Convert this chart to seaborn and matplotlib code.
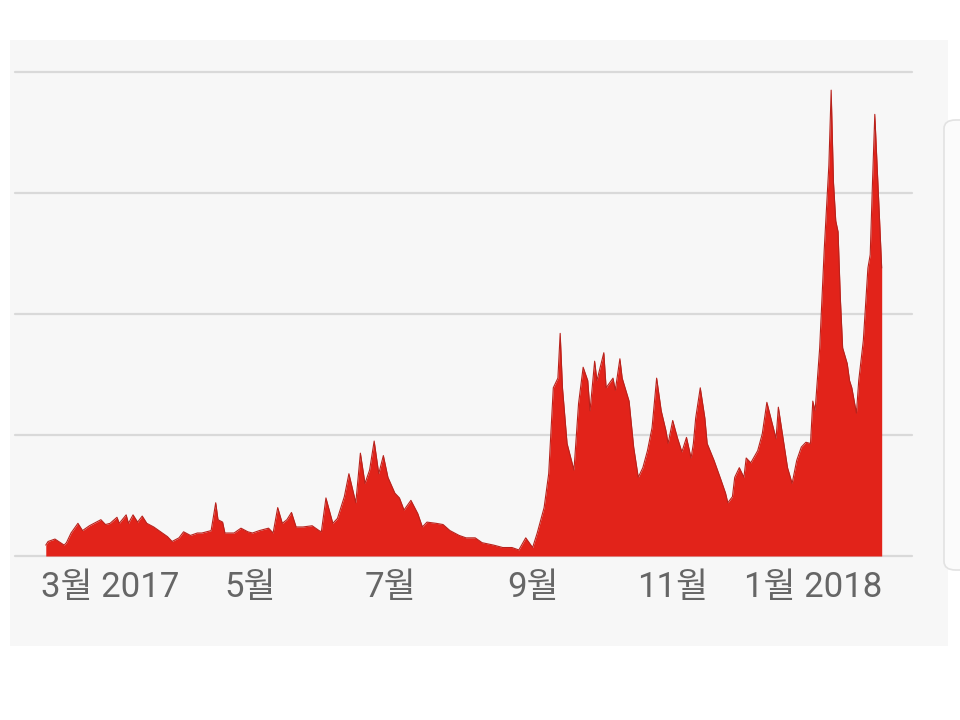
import pandas as pd
import numpy as np
import matplotlib
matplotlib.use("Agg")
import matplotlib.pyplot as plt
import matplotlib.dates as mdates
from matplotlib.patches import Rectangle, FancyBboxPatch
import seaborn as sns

# --- data ---
dates = [
    "2017-02-01", "2017-02-02", "2017-02-05", "2017-02-09", "2017-02-10", "2017-02-12",
    "2017-02-15", "2017-02-17", "2017-02-20", "2017-02-22", "2017-02-25", "2017-02-27",
    "2017-03-01", "2017-03-04", "2017-03-05", "2017-03-08", "2017-03-09", "2017-03-11",
    "2017-03-13", "2017-03-15", "2017-03-17", "2017-03-20", "2017-03-23", "2017-03-26",
    "2017-03-28", "2017-03-31", "2017-04-02", "2017-04-05", "2017-04-08", "2017-04-10",
    "2017-04-14", "2017-04-16", "2017-04-17", "2017-04-19", "2017-04-20", "2017-04-24",
    "2017-04-27", "2017-04-30", "2017-05-02", "2017-05-05", "2017-05-09", "2017-05-11",
    "2017-05-13", "2017-05-15", "2017-05-17", "2017-05-19", "2017-05-21", "2017-05-24",
    "2017-05-28", "2017-05-31", "2017-06-01", "2017-06-03", "2017-06-06", "2017-06-08",
    "2017-06-11", "2017-06-13", "2017-06-16", "2017-06-18", "2017-06-20", "2017-06-22",
    "2017-06-24", "2017-06-26", "2017-06-28", "2017-06-30", "2017-07-03", "2017-07-05",
    "2017-07-07", "2017-07-10", "2017-07-13", "2017-07-15", "2017-07-17", "2017-07-21",
    "2017-07-24", "2017-07-27", "2017-07-31", "2017-08-03", "2017-08-07", "2017-08-10",
    "2017-08-15", "2017-08-19", "2017-08-23", "2017-08-26", "2017-08-29", "2017-09-01",
    "2017-09-03", "2017-09-06", "2017-09-08", "2017-09-10", "2017-09-12", "2017-09-13",
    "2017-09-14", "2017-09-16", "2017-09-19", "2017-09-21", "2017-09-23", "2017-09-25",
    "2017-09-26", "2017-09-28", "2017-09-29", "2017-10-02", "2017-10-03", "2017-10-06",
    "2017-10-07", "2017-10-09", "2017-10-10", "2017-10-13", "2017-10-15", "2017-10-17",
    "2017-10-19", "2017-10-21", "2017-10-23", "2017-10-25", "2017-10-27", "2017-10-29",
    "2017-10-30", "2017-11-01", "2017-11-03", "2017-11-05", "2017-11-07", "2017-11-09",
    "2017-11-10", "2017-11-11", "2017-11-13", "2017-11-15", "2017-11-16", "2017-11-19",
    "2017-11-22", "2017-11-24", "2017-11-25", "2017-11-27", "2017-11-28", "2017-11-30",
    "2017-12-02", "2017-12-03", "2017-12-05", "2017-12-08", "2017-12-10", "2017-12-12",
    "2017-12-14", "2017-12-16", "2017-12-17", "2017-12-19", "2017-12-21", "2017-12-23",
    "2017-12-25", "2017-12-27", "2017-12-29", "2017-12-31", "2018-01-01", "2018-01-02",
    "2018-01-04", "2018-01-06", "2018-01-08", "2018-01-09", "2018-01-10", "2018-01-11",
    "2018-01-12", "2018-01-13", "2018-01-14", "2018-01-16", "2018-01-17", "2018-01-18",
    "2018-01-20", "2018-01-21", "2018-01-23", "2018-01-25", "2018-01-26", "2018-01-27",
    "2018-01-28", "2018-01-29", "2018-01-30", "2018-01-31",
]
values = [
    0.09, 0.12, 0.14, 0.09, 0.11, 0.19,
    0.27, 0.21, 0.25, 0.27, 0.30, 0.26,
    0.27, 0.32, 0.27, 0.34, 0.27, 0.34,
    0.28, 0.33, 0.27, 0.24, 0.20, 0.16,
    0.12, 0.15, 0.20, 0.17, 0.19, 0.19,
    0.21, 0.44, 0.30, 0.28, 0.19, 0.19,
    0.23, 0.20, 0.19, 0.21, 0.23, 0.19,
    0.40, 0.27, 0.30, 0.36, 0.24, 0.24,
    0.25, 0.21, 0.20, 0.48, 0.27, 0.31,
    0.49, 0.68, 0.44, 0.85, 0.60, 0.71,
    0.95, 0.68, 0.83, 0.65, 0.52, 0.48,
    0.38, 0.46, 0.35, 0.24, 0.28, 0.27,
    0.26, 0.21, 0.17, 0.15, 0.15, 0.11,
    0.09, 0.07, 0.07, 0.05, 0.15, 0.07,
    0.19, 0.40, 0.68, 1.39, 1.47, 1.84,
    1.39, 0.93, 0.71, 1.26, 1.56, 1.45,
    1.20, 1.61, 1.45, 1.68, 1.39, 1.47,
    1.37, 1.63, 1.47, 1.28, 0.90, 0.65,
    0.73, 0.87, 1.06, 1.47, 1.20, 1.04,
    0.93, 1.12, 0.98, 0.86, 0.98, 0.81,
    0.93, 1.14, 1.39, 1.14, 0.93, 0.79,
    0.63, 0.52, 0.44, 0.49, 0.65, 0.73,
    0.65, 0.81, 0.77, 0.87, 1.01, 1.27,
    1.12, 0.97, 1.23, 0.98, 0.73, 0.60,
    0.79, 0.90, 0.94, 0.93, 1.28, 1.20,
    1.72, 2.54, 3.23, 3.85, 3.09, 2.77,
    2.68, 2.13, 1.72, 1.59, 1.45, 1.39,
    1.18, 1.45, 1.78, 2.38, 2.49, 3.09,
    3.65, 3.23, 2.82, 2.38,
]
tick_dates = ["2017-03-01", "2017-05-01", "2017-07-01", "2017-09-01", "2017-11-01", "2018-01-01"]
tick_labels = ["3월 2017", "5월", "7월", "9월", "11월", "1월 2018"]
y_grid = [0, 1, 2, 3, 4]

RED = "#e2231a"
PANEL = "#f7f7f7"
GRID = "#d9d9d9"
TEXT = "#666666"


def main():
    sns.set_style("white")
    plt.rcParams["font.family"] = ["Roboto", "Noto Sans CJK KR", "DejaVu Sans"]

    df = pd.DataFrame({"date": pd.to_datetime(dates), "value": values})

    fig = plt.figure(figsize=(9.6, 7.2), dpi=100)
    fig.patch.set_facecolor("white")

    # --- grey card behind the chart ---
    fig.patches.append(Rectangle((10 / 960, 1 - 646 / 720), 938 / 960, 606 / 720,
                                 transform=fig.transFigure, facecolor=PANEL,
                                 edgecolor="none", zorder=-2))
    fig.patches.append(FancyBboxPatch((944 / 960, 1 - 570 / 720), 0.03, 450 / 720,
                                      boxstyle="round,pad=0,rounding_size=0.012",
                                      transform=fig.transFigure, facecolor="#fbfbfb",
                                      edgecolor="#e2e2e2", lw=1.2, zorder=-1))

    ax = fig.add_axes([15 / 960, 1 - 556 / 720, 897 / 960, 484 / 720])
    ax.set_zorder(2)
    ax.patch.set_visible(False)

    for y in y_grid:
        ax.axhline(y, color=GRID, lw=1.6, zorder=1, clip_on=False)

    ax.fill_between(df["date"], 0, df["value"], color=RED, lw=0, zorder=2)
    sns.lineplot(data=df, x="date", y="value", ax=ax, color="#b8221c", lw=0.8, zorder=3)

    # --- axes ---
    mar1 = mdates.date2num(pd.Timestamp("2017-03-01"))
    ax.set_xlim(mar1 - 41.4, mar1 + 349.2)
    ax.set_ylim(0, 4)
    for s in ax.spines.values():
        s.set_visible(False)

    ax.set_xticks(mdates.date2num(pd.to_datetime(tick_dates)))
    ax.set_xticklabels(tick_labels)
    ax.set_yticks([])
    ax.tick_params(axis="x", length=3, width=1, color="#cccccc", pad=8,
                   labelsize=25, labelcolor=TEXT)
    ax.set_xlabel("")
    ax.set_ylabel("")

    fig.savefig("out.png", dpi=100, facecolor="white")
    plt.close(fig)


if __name__ == "__main__":
    main()
